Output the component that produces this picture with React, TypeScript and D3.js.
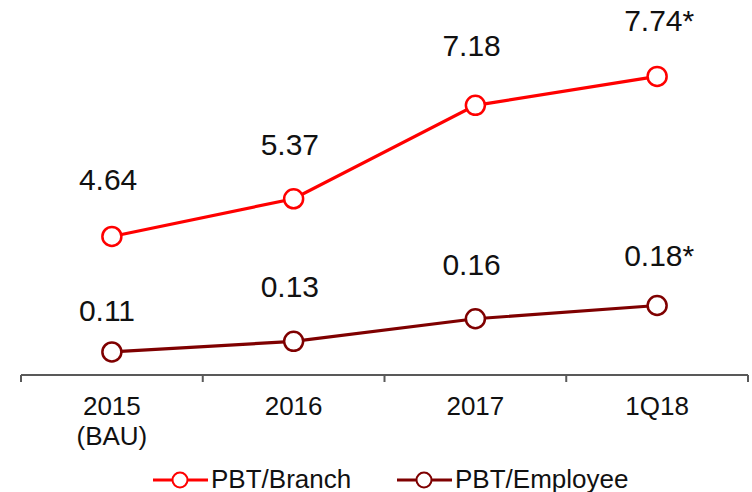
import React from 'react';
import * as d3 from 'd3';

const categories = ['2015\n(BAU)', '2016', '2017', '1Q18'];
const branch = [4.64, 5.37, 7.18, 7.74];
const employee = [0.11, 0.126, 0.16, 0.18];
const starred = [false, false, false, true];
const seriesNames = ['PBT/Branch', 'PBT/Employee'];

const W = 752;
const H = 492;
const FONT = '"Liberation Sans", Arial, Helvetica, sans-serif';
const RED = '#ff0000';
const MAROON = '#7f0000';

// label lift above the marker, per point (the source places them unevenly)
const branchLift = [46, 44, 49, 45];
const employeeLift = [31, 44, 44, 39];

const x = d3.scaleBand<string>()
  .domain(categories)
  .range([21, 748]);

const yBranch = d3.scaleLinear().domain([0, 8]).range([476, 63]);
const yEmployee = d3.scaleLinear().domain([0, 0.2]).range([425, 292.2]);

const fmt = d3.format('.2f');
const axisY = 375;

export default function App() {
  const cx = (c: string) => (x(c) as number) + x.bandwidth() / 2;

  const series = [
    { name: seriesNames[0], values: branch, y: yBranch, color: RED, lift: branchLift },
    { name: seriesNames[1], values: employee, y: yEmployee, color: MAROON, lift: employeeLift },
  ];

  const edges = categories.map(c => x(c) as number).concat([x.range()[1]]);

  return (
    <div style={{ position: 'fixed', left: 0, top: 0 }}>
      <svg width={W} height={H} style={{ display: 'block', background: '#fff' }} fontFamily={FONT}>
        {/* axis */}
        <g stroke="#595959" strokeWidth={2}>
          <line x1={edges[0]} x2={edges[edges.length - 1]} y1={axisY} y2={axisY} />
          {edges.map((e, i) => (
            <line key={i} x1={e} x2={e} y1={axisY} y2={axisY + 7} />
          ))}
        </g>
        {categories.map(c => (
          <text key={c} x={cx(c)} y={415} textAnchor="middle" fontSize={26} fill="#111">
            {c.split('\n').map((t, j) => (
              <tspan key={j} x={cx(c)} dy={j === 0 ? 0 : 30}>{t}</tspan>
            ))}
          </text>
        ))}

        {series.map(s => {
          const line = d3.line<number>()
            .x((_, i) => cx(categories[i]))
            .y(d => s.y(d));
          return (
            <g key={s.name}>
              <path d={line(s.values) || ''} fill="none" stroke={s.color} strokeWidth={3.2} />
              {s.values.map((v, i) => (
                <circle key={i} cx={cx(categories[i])} cy={s.y(v)} r={9.5}
                  fill="#fff" stroke={s.color} strokeWidth={2.5} />
              ))}
              {s.values.map((v, i) => (
                <text key={'t' + i} x={cx(categories[i]) - 33} y={s.y(v) - s.lift[i]}
                  fontSize={30} fill="#111">
                  {fmt(v)}{starred[i] ? '*' : ''}
                </text>
              ))}
            </g>
          );
        })}

        {/* legend */}
        {series.map((s, i) => {
          const lx = i === 0 ? 153 : 397;
          return (
            <g key={'lg' + i}>
              <line x1={lx} x2={lx + 55} y1={480} y2={480} stroke={s.color} strokeWidth={3.2} />
              <circle cx={lx + 27} cy={480} r={7.5} fill="#fff" stroke={s.color} strokeWidth={2} />
              <text x={lx + 58} y={488} fontSize={26} fill="#111">{s.name}</text>
            </g>
          );
        })}
      </svg>
    </div>
  );
}
